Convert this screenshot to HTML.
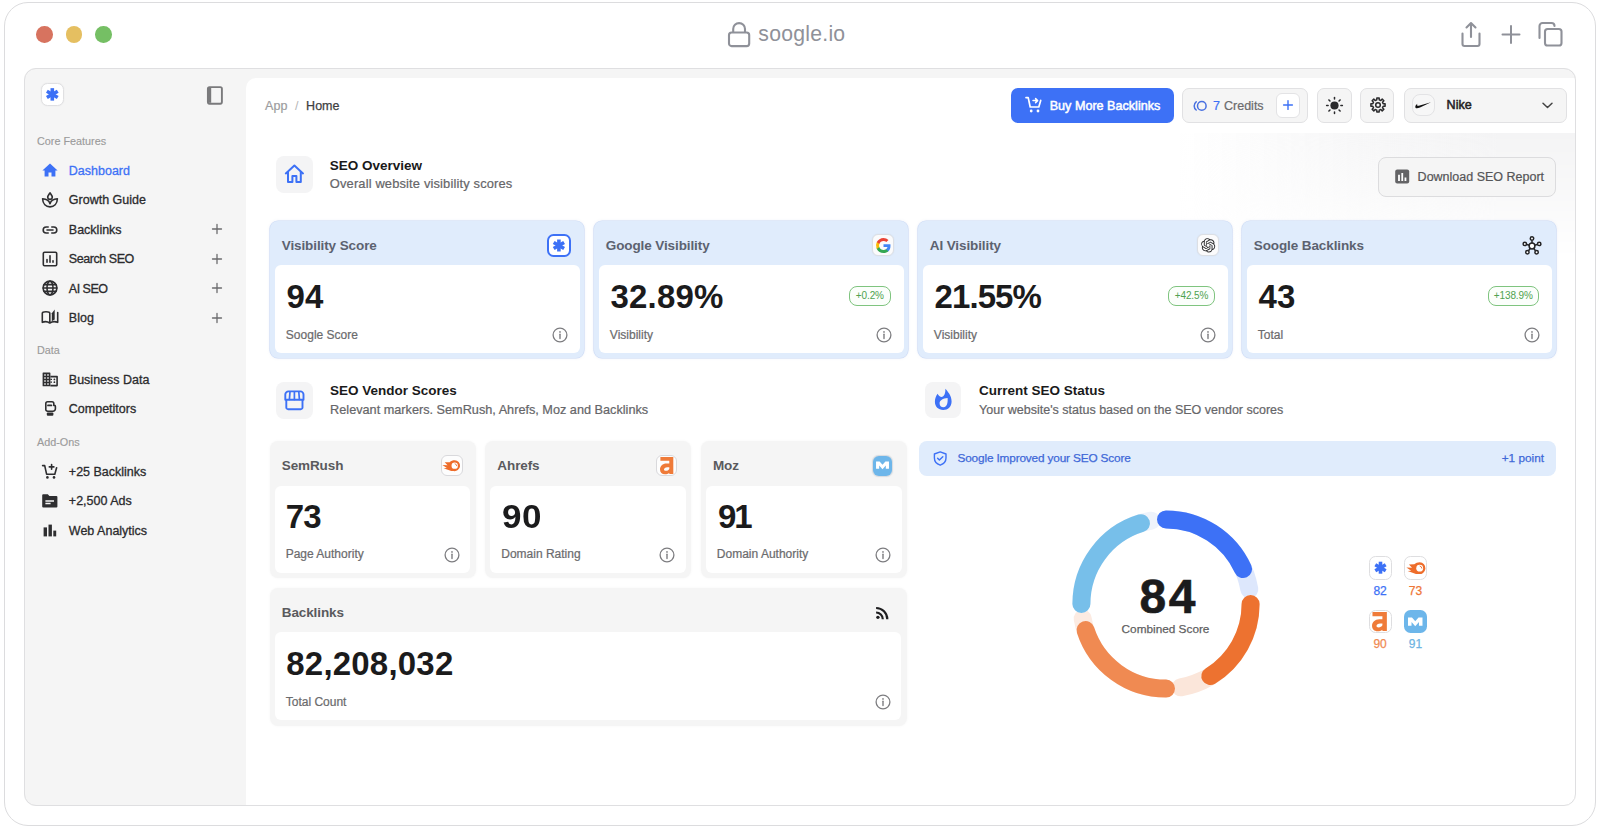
<!DOCTYPE html>
<html><head><meta charset="utf-8"><title>Soogle</title>
<style>
html,body{margin:0;padding:0;background:#fff;}
body{width:1600px;height:832px;position:relative;overflow:hidden;font-family:'Liberation Sans', Arial, sans-serif;}
</style></head><body>
<div style="position:absolute;left:4px;top:2px;width:1592px;height:824px;box-sizing:border-box;border:1.3px solid #dcdcde;border-radius:24px;background:#fff"></div>
<div style="position:absolute;left:36.0px;top:25.999999999999996px;width:16.6px;height:16.6px;border-radius:50%;background:#d7735f"></div>
<div style="position:absolute;left:65.60000000000001px;top:25.999999999999996px;width:16.6px;height:16.6px;border-radius:50%;background:#e5bf61"></div>
<div style="position:absolute;left:95.3px;top:25.999999999999996px;width:16.6px;height:16.6px;border-radius:50%;background:#75bf64"></div>
<svg style="position:absolute;left:727px;top:21px;overflow:visible;" width="24" height="27" viewBox="0 0 24 27" fill="none"><path d="M6.2 11.5V8a5.9 5.9 0 0 1 11.8 0v3.5" stroke="#8f9199" stroke-width="2.1"/><rect x="2" y="11.5" width="20.2" height="13.6" rx="2.6" stroke="#8f9199" stroke-width="2.1"/></svg>
<div style="position:absolute;left:758.32px;top:22.85px;font-size:21.2px;line-height:1;font-weight:400;color:#8f9199;white-space:nowrap;letter-spacing:0.25px">soogle.io</div>
<svg style="position:absolute;left:1458px;top:20px;overflow:visible;" width="26" height="28" viewBox="0 0 26 28" fill="none"><path d="M13 3.5V17M8.5 7.5L13 3l4.5 4.5" stroke="#8f9199" stroke-width="2.1" stroke-linecap="round" stroke-linejoin="round"/><path d="M4.5 13.5v10.5a2 2 0 0 0 2 2h13a2 2 0 0 0 2-2V13.5" stroke="#8f9199" stroke-width="2.1" stroke-linecap="round"/></svg>
<svg style="position:absolute;left:1500px;top:24px;overflow:visible;" width="22" height="22" viewBox="0 0 22 22" fill="none"><path d="M11 2v17M2.5 10.5h17" stroke="#8f9199" stroke-width="2" stroke-linecap="round"/></svg>
<svg style="position:absolute;left:1536px;top:20px;overflow:visible;" width="28" height="28" viewBox="0 0 28 28" fill="none"><rect x="9" y="9" width="16.5" height="16.5" rx="2.6" stroke="#8f9199" stroke-width="2.1"/><path d="M3.5 18V6a3 3 0 0 1 3-3h9a3 3 0 0 1 3 3" stroke="#8f9199" stroke-width="2.1" stroke-linecap="round"/></svg>
<div style="position:absolute;left:24px;top:68.3px;width:1552.3px;height:738px;border-radius:12px;background:#f5f5f5"></div>
<div style="position:absolute;left:246px;top:78px;width:1330px;height:728px;background:#fff;border-radius:10px 0 12px 0"></div>
<div style="position:absolute;left:1180px;top:132.5px;width:396px;height:125px;background:linear-gradient(to right, rgba(244,244,245,0), rgba(244,244,245,0.75) 45%, rgba(244,244,245,1) 80%);-webkit-mask-image:linear-gradient(to bottom, #000 0%, rgba(0,0,0,0.6) 45%, transparent 100%)"></div>
<div style="position:absolute;left:24px;top:68.3px;width:1552.3px;height:738px;box-sizing:border-box;border:1.3px solid #dfdfe1;border-radius:12px"></div>
<div style="position:absolute;left:41.4px;top:83.2px;width:22.2px;height:22.7px;box-sizing:border-box;background:#fff;border:1px solid #e0e0e2;border-radius:6.5px;box-shadow:0 0 2px rgba(0,0,0,0.06)"></div>
<svg style="position:absolute;left:41px;top:83px;overflow:visible;" width="22.5" height="22.5" viewBox="0 0 22.5 22.5" fill="none"><g stroke="#3d71f6" stroke-width="3.6" stroke-linecap="butt"><path d="M11.3 5.15V17.65"/><path d="M5.887341226347258 8.275L16.71265877365274 14.525"/><path d="M5.887341226347258 14.525L16.71265877365274 8.275"/></g></svg>
<svg style="position:absolute;left:205px;top:84.8px;overflow:visible;" width="19" height="21" viewBox="0 0 19 21" fill="none"><rect x="2.9" y="2.1" width="14" height="16.6" rx="1.6" stroke="#7a7a7c" stroke-width="1.9"/><path d="M4.6 3v14.8" stroke="#7a7a7c" stroke-width="3.2"/></svg>
<div style="position:absolute;left:37.04px;top:135.56px;font-size:10.8px;line-height:1;font-weight:400;color:#9b9b9b;white-space:nowrap;-webkit-text-stroke:0.15px currentColor">Core Features</div>
<div style="position:absolute;left:37.04px;top:345.06px;font-size:10.8px;line-height:1;font-weight:400;color:#9b9b9b;white-space:nowrap;-webkit-text-stroke:0.15px currentColor">Data</div>
<div style="position:absolute;left:37.04px;top:436.86px;font-size:10.8px;line-height:1;font-weight:400;color:#9b9b9b;white-space:nowrap;-webkit-text-stroke:0.15px currentColor">Add-Ons</div>
<div style="position:absolute;left:68.83px;top:165.12px;font-size:12.5px;line-height:1;font-weight:500;color:#3d71f6;white-space:nowrap;-webkit-text-stroke:0.3px currentColor;letter-spacing:0px">Dashboard</div>
<div style="position:absolute;left:68.83px;top:194.22px;font-size:12.5px;line-height:1;font-weight:500;color:#2b2b2d;white-space:nowrap;-webkit-text-stroke:0.3px currentColor;letter-spacing:0px">Growth Guide</div>
<div style="position:absolute;left:68.83px;top:223.82px;font-size:12.5px;line-height:1;font-weight:500;color:#2b2b2d;white-space:nowrap;-webkit-text-stroke:0.3px currentColor;letter-spacing:0px">Backlinks</div>
<svg style="position:absolute;left:211px;top:223.1px;overflow:visible;" width="12" height="12" viewBox="0 0 12 12" fill="none"><path d="M6 1.5v9M1.5 6h9" stroke="#6b6b6d" stroke-width="1.3" stroke-linecap="round"/></svg>
<div style="position:absolute;left:68.83px;top:253.32px;font-size:12.5px;line-height:1;font-weight:500;color:#2b2b2d;white-space:nowrap;-webkit-text-stroke:0.3px currentColor;letter-spacing:-0.45px">Search SEO</div>
<svg style="position:absolute;left:211px;top:252.60000000000002px;overflow:visible;" width="12" height="12" viewBox="0 0 12 12" fill="none"><path d="M6 1.5v9M1.5 6h9" stroke="#6b6b6d" stroke-width="1.3" stroke-linecap="round"/></svg>
<div style="position:absolute;left:68.83px;top:282.72px;font-size:12.5px;line-height:1;font-weight:500;color:#2b2b2d;white-space:nowrap;-webkit-text-stroke:0.3px currentColor;letter-spacing:-0.5px">AI SEO</div>
<svg style="position:absolute;left:211px;top:282.0px;overflow:visible;" width="12" height="12" viewBox="0 0 12 12" fill="none"><path d="M6 1.5v9M1.5 6h9" stroke="#6b6b6d" stroke-width="1.3" stroke-linecap="round"/></svg>
<div style="position:absolute;left:68.83px;top:312.22px;font-size:12.5px;line-height:1;font-weight:500;color:#2b2b2d;white-space:nowrap;-webkit-text-stroke:0.3px currentColor;letter-spacing:0px">Blog</div>
<svg style="position:absolute;left:211px;top:311.5px;overflow:visible;" width="12" height="12" viewBox="0 0 12 12" fill="none"><path d="M6 1.5v9M1.5 6h9" stroke="#6b6b6d" stroke-width="1.3" stroke-linecap="round"/></svg>
<div style="position:absolute;left:68.83px;top:373.62px;font-size:12.5px;line-height:1;font-weight:500;color:#2b2b2d;white-space:nowrap;-webkit-text-stroke:0.3px currentColor;letter-spacing:0px">Business Data</div>
<div style="position:absolute;left:68.83px;top:402.82px;font-size:12.5px;line-height:1;font-weight:500;color:#2b2b2d;white-space:nowrap;-webkit-text-stroke:0.3px currentColor;letter-spacing:0px">Competitors</div>
<div style="position:absolute;left:68.83px;top:465.82px;font-size:12.5px;line-height:1;font-weight:500;color:#2b2b2d;white-space:nowrap;-webkit-text-stroke:0.3px currentColor;letter-spacing:0px">+25 Backlinks</div>
<div style="position:absolute;left:68.83px;top:495.32px;font-size:12.5px;line-height:1;font-weight:500;color:#2b2b2d;white-space:nowrap;-webkit-text-stroke:0.3px currentColor;letter-spacing:0px">+2,500 Ads</div>
<div style="position:absolute;left:68.83px;top:524.82px;font-size:12.5px;line-height:1;font-weight:500;color:#2b2b2d;white-space:nowrap;-webkit-text-stroke:0.3px currentColor;letter-spacing:0px">Web Analytics</div>
<svg style="position:absolute;left:41.5px;top:162.8px;overflow:visible;" width="16" height="16" viewBox="0 0 16 16" fill="none"><path d="M8 0.6L0.4 7.4h2.2v6.2h3.9V9.6h3v4h3.9V7.4h2.2z" fill="#3d71f6"/></svg>
<svg style="position:absolute;left:41.5px;top:191.9px;overflow:visible;" width="16" height="16" viewBox="0 0 16 16" fill="none"><path d="M8 0.8C8.9 2.3 10.3 4 10.3 5.1A2.3 2.3 0 0 1 5.7 5.1C5.7 4 7.1 2.3 8 0.8Z" stroke="#2e2e30" stroke-width="1.6" stroke-linecap="round" stroke-linejoin="round"/><path d="M8 14.9C3.9 14.9 0.8 12 0.6 6.8 4.6 7 7.3 9.3 8 11.8 8.7 9.3 11.4 7 15.4 6.8 15.2 12 12.1 14.9 8 14.9Z" stroke="#2e2e30" stroke-width="1.6" stroke-linecap="round" stroke-linejoin="round"/></svg>
<svg style="position:absolute;left:41.5px;top:221.5px;overflow:visible;" width="16" height="16" viewBox="0 0 16 16" fill="none"><path d="M6.2 5H4.2a3 3 0 0 0 0 6h2M9.8 5h2a3 3 0 0 1 0 6h-2M5 8h6" stroke="#2e2e30" stroke-width="1.6" stroke-linecap="round" stroke-linejoin="round"/></svg>
<svg style="position:absolute;left:41.5px;top:251.0px;overflow:visible;" width="16" height="16" viewBox="0 0 16 16" fill="none"><rect x="1.3" y="1.3" width="13.4" height="13.4" rx="1.2" stroke="#2e2e30" stroke-width="1.6" stroke-linecap="round" stroke-linejoin="round"/><path d="M5 11.2V8.5M8 11.2V4.8M11 11.2V9.8" stroke="#2e2e30" stroke-width="1.6" stroke-linecap="round" stroke-linejoin="round"/></svg>
<svg style="position:absolute;left:41.5px;top:280.4px;overflow:visible;" width="16" height="16" viewBox="0 0 16 16" fill="none"><circle cx="8" cy="8" r="6.9" stroke="#2e2e30" stroke-width="1.6" stroke-linecap="round" stroke-linejoin="round"/><path d="M1.2 8h13.6M2 4.6h12M2 11.4h12" stroke="#2e2e30" stroke-width="1.6" stroke-linecap="round" stroke-linejoin="round"/><ellipse cx="8" cy="8" rx="3" ry="6.9" stroke="#2e2e30" stroke-width="1.6" stroke-linecap="round" stroke-linejoin="round"/></svg>
<svg style="position:absolute;left:41.5px;top:309.9px;overflow:visible;" width="16" height="16" viewBox="0 0 16 16" fill="none"><path d="M0.3 12.3V3.3C0.3 2.2 1.9 1.7 4 1.7S7.8 2.2 7.8 3.3V13M0.3 12.3C2.6 11.4 5.6 11.5 7.8 13C10 11.5 13.4 11.4 15.7 12.3V2.6" stroke="#2e2e30" stroke-width="1.6" stroke-linecap="round" stroke-linejoin="round"/><path d="M9.8 3.3L12.7 -0.6V9.6L9.8 11.3Z" fill="#2e2e30"/></svg>
<svg style="position:absolute;left:41.5px;top:372.2px;overflow:visible;" width="16" height="16" viewBox="0 0 16 16" fill="none"><rect x="0.6" y="0.4" width="7.8" height="13.9" rx="0.6" fill="#2e2e30"/><path d="M2.2 2.2h1.6v1.6H2.2zM5.2 2.2h1.6v1.6H5.2zM2.2 5.2h1.6v1.6H2.2zM5.2 5.2h1.6v1.6H5.2zM2.2 8.2h1.6v1.6H2.2zM5.2 8.2h1.6v1.6H5.2zM2.2 11.2h1.6v1.6H2.2zM5.2 11.2h1.6v1.6H5.2z" fill="#e8e8e8"/><path d="M8.4 4.6h6.7v9H8.4" stroke="#2e2e30" stroke-width="1.6" stroke-linejoin="round"/><path d="M8.4 7.4h1.6M8.4 10.2h1.6" stroke="#2e2e30" stroke-width="1.3"/><circle cx="12.4" cy="7.4" r="0.9" fill="#2e2e30"/><circle cx="12.4" cy="10.2" r="0.9" fill="#2e2e30"/></svg>
<svg style="position:absolute;left:41.5px;top:401.4px;overflow:visible;" width="16" height="16" viewBox="0 0 16 16" fill="none"><path d="M3.8 2.6a1.8 1.8 0 0 1 1.8-1.8h4.4a1.8 1.8 0 0 1 1.8 1.8v1.8h0.6a1 1 0 0 1 1 1v2.4a2.4 2.4 0 0 1-2.4 2.4H5.6A1.8 1.8 0 0 1 3.8 8.4z" stroke="#2e2e30" stroke-width="1.6" stroke-linecap="round" stroke-linejoin="round"/><path d="M6 4.4h3.4" stroke="#2e2e30" stroke-width="1.8" stroke-linecap="round"/><rect x="4.8" y="11.4" width="6.6" height="3.4" rx="1" fill="#2e2e30"/></svg>
<svg style="position:absolute;left:41.5px;top:463.5px;overflow:visible;" width="16" height="16" viewBox="0 0 16 16" fill="none"><path d="M0.6 1.6h2.1l1.9 8.6h8.2l1.8-6.4" stroke="#2e2e30" stroke-width="1.6" stroke-linecap="round" stroke-linejoin="round"/><path d="M9.6 0.6v4.6M7.3 2.9h4.6" stroke="#2e2e30" stroke-width="1.6" stroke-linecap="round" stroke-linejoin="round"/><circle cx="5.4" cy="13.4" r="1.3" fill="#2e2e30"/><circle cx="12" cy="13.4" r="1.3" fill="#2e2e30"/></svg>
<svg style="position:absolute;left:41.5px;top:493.0px;overflow:visible;" width="16" height="16" viewBox="0 0 16 16" fill="none"><path d="M0.2 2.2a1 1 0 0 1 1-1h4.6l1.6 1.8h7a1 1 0 0 1 1 1v9.4a1 1 0 0 1-1 1H1.2a1 1 0 0 1-1-1z" fill="#2e2e30"/><path d="M3.4 7.9h8.6M3.4 10.6h5.2" stroke="#f5f5f5" stroke-width="1.5"/></svg>
<svg style="position:absolute;left:41.5px;top:522.5px;overflow:visible;" width="16" height="16" viewBox="0 0 16 16" fill="none"><rect x="1.6" y="4.4" width="3.4" height="9" fill="#2e2e30"/><rect x="6.5" y="1.6" width="3.4" height="11.8" fill="#2e2e30"/><rect x="11.3" y="7.6" width="2.9" height="5.8" fill="#2e2e30"/></svg>
<div style="position:absolute;left:265.12px;top:100.22px;font-size:12.5px;line-height:1;font-weight:400;color:#9c9c9e;white-space:nowrap;-webkit-text-stroke:0.2px currentColor">App</div>
<div style="position:absolute;left:294.93px;top:100.22px;font-size:12.5px;line-height:1;font-weight:400;color:#b5b5b7;white-space:nowrap;">/</div>
<div style="position:absolute;left:306.12px;top:100.22px;font-size:12.5px;line-height:1;font-weight:400;color:#3f3f42;white-space:nowrap;-webkit-text-stroke:0.25px currentColor">Home</div>
<div style="position:absolute;left:1011px;top:88px;width:163px;height:34.5px;background:#3d71f6;border-radius:7px"></div>
<svg style="position:absolute;left:1024.5px;top:96px;overflow:visible;" width="18" height="18" viewBox="0 0 18 18" fill="none"><path d="M1 1.6h2.2l2 9.4h8.6l1.9-6.6" stroke="#fff" stroke-width="1.7" stroke-linecap="round" stroke-linejoin="round"/><path d="M8 4.6h4.4M10.6 2.6l2 2-2 2" stroke="#fff" stroke-width="1.5" stroke-linecap="round" stroke-linejoin="round"/><circle cx="6.2" cy="15" r="1.4" fill="#fff"/><circle cx="13" cy="15" r="1.4" fill="#fff"/></svg>
<div style="position:absolute;left:1049.72px;top:99.63px;font-size:12.6px;line-height:1;font-weight:400;color:#fff;white-space:nowrap;-webkit-text-stroke:0.5px #fff">Buy More Backlinks</div>
<div style="position:absolute;left:1182.4px;top:88px;width:126px;height:34.5px;box-sizing:border-box;background:#f5f5f5;border:1px solid #e1e1e3;border-radius:7px"></div>
<svg style="position:absolute;left:1192px;top:99.8px;overflow:visible;" width="16" height="13" viewBox="0 0 16 13" fill="none"><circle cx="9.8" cy="5.9" r="4.3" stroke="#4870e0" stroke-width="1.5"/><path d="M4.2 1.8A5.2 5.2 0 0 0 4.2 10" stroke="#4870e0" stroke-width="1.5" stroke-linecap="round"/></svg>
<div style="position:absolute;left:1213.03px;top:100.32px;font-size:12.5px;line-height:1;font-weight:500;color:#3d71f6;white-space:nowrap;-webkit-text-stroke:0.22px currentColor">7</div>
<div style="position:absolute;left:1224.03px;top:100.32px;font-size:12.5px;line-height:1;font-weight:500;color:#6b6b6d;white-space:nowrap;-webkit-text-stroke:0.22px currentColor">Credits</div>
<div style="position:absolute;left:1275.6px;top:93.1px;width:24px;height:24.5px;box-sizing:border-box;background:#fff;border:1px solid #e3e3e5;border-radius:6px"></div>
<svg style="position:absolute;left:1282.5px;top:100.4px;overflow:visible;" width="10" height="10" viewBox="0 0 10 10" fill="none"><path d="M5 0.6v8.8M0.6 5h8.8" stroke="#3d71f6" stroke-width="1.4" stroke-linecap="round"/></svg>
<div style="position:absolute;left:1317.4px;top:88px;width:34.2px;height:34.5px;box-sizing:border-box;background:#f5f5f5;border:1px solid #e1e1e3;border-radius:7px"></div>
<svg style="position:absolute;left:1326px;top:96.5px;overflow:visible;" width="17" height="17" viewBox="0 0 17 17" fill="none"><circle cx="8.5" cy="8.5" r="4.1" fill="#2b2b2d"/><g stroke="#2b2b2d" stroke-width="1.5" stroke-linecap="round"><path d="M8.50 2.10L8.50 0.60"/><path d="M13.03 3.97L14.09 2.91"/><path d="M14.90 8.50L16.40 8.50"/><path d="M13.03 13.03L14.09 14.09"/><path d="M8.50 14.90L8.50 16.40"/><path d="M3.97 13.03L2.91 14.09"/><path d="M2.10 8.50L0.60 8.50"/><path d="M3.97 3.97L2.91 2.91"/></g></svg>
<div style="position:absolute;left:1360.3px;top:88px;width:34.2px;height:34.5px;box-sizing:border-box;background:#f5f5f5;border:1px solid #e1e1e3;border-radius:7px"></div>
<svg style="position:absolute;left:1369.5px;top:97px;overflow:visible;" width="16" height="16" viewBox="0 0 16 16" fill="none"><path d="M6.80 2.84L6.82 0.90L9.18 0.90L9.20 2.84L10.80 3.50L12.19 2.14L13.86 3.81L12.50 5.20L13.16 6.80L15.10 6.82L15.10 9.18L13.16 9.20L12.50 10.80L13.86 12.19L12.19 13.86L10.80 12.50L9.20 13.16L9.18 15.10L6.82 15.10L6.80 13.16L5.20 12.50L3.81 13.86L2.14 12.19L3.50 10.80L2.84 9.20L0.90 9.18L0.90 6.82L2.84 6.80L3.50 5.20L2.14 3.81L3.81 2.14L5.20 3.50Z" stroke="#2b2b2d" stroke-width="1.5" stroke-linejoin="round"/><circle cx="8" cy="8" r="2.3" stroke="#2b2b2d" stroke-width="1.5"/></svg>
<div style="position:absolute;left:1403.6px;top:88px;width:163.6px;height:34.5px;box-sizing:border-box;background:#f5f5f5;border:1px solid #e1e1e3;border-radius:7px"></div>
<div style="position:absolute;left:1412.4px;top:93.6px;width:22.5px;height:22.8px;box-sizing:border-box;background:#f7f7f7;border:1px solid #e3e3e5;border-radius:8px"></div>
<svg style="position:absolute;left:1415.2px;top:102.2px;overflow:visible;" width="16.2" height="6.2" viewBox="0 0 16.2 6.2" fill="none"><path d="M16 0.2L5 5.6C3.7 6.1 2.7 6.3 1.9 6.3 0.9 6.3 0.3 5.7 0.3 4.9 0.3 3.9 1 2.9 2.4 1.8 1.9 2.8 2 3.5 2.5 3.7 3 3.9 3.8 3.8 4.7 3.4Z" fill="#111"/></svg>
<div style="position:absolute;left:1446.62px;top:99.33px;font-size:12.6px;line-height:1;font-weight:400;color:#222;white-space:nowrap;-webkit-text-stroke:0.5px #222">Nike</div>
<svg style="position:absolute;left:1542px;top:101.5px;overflow:visible;" width="11" height="7" viewBox="0 0 11 7" fill="none"><path d="M1 1.2l4.5 4.3L10 1.2" stroke="#444" stroke-width="1.5" stroke-linecap="round" stroke-linejoin="round"/></svg>
<div style="position:absolute;left:1378px;top:157px;width:178px;height:40px;box-sizing:border-box;background:#f5f5f5;border:1px solid #dcdcde;border-radius:8px"></div>
<svg style="position:absolute;left:1395px;top:170px;overflow:visible;" width="14.5" height="14" viewBox="0 0 14.5 14" fill="none"><rect x="0.2" y="-0.4" width="14" height="14" rx="2" fill="#646466"/><path d="M4 10.9V4.8M7.25 10.9V2.9M10.45 10.9V7.4" stroke="#fff" stroke-width="1.8"/></svg>
<div style="position:absolute;left:1417.62px;top:171.02px;font-size:12.5px;line-height:1;font-weight:400;color:#555558;white-space:nowrap;-webkit-text-stroke:0.22px currentColor">Download SEO Report</div>
<div style="position:absolute;left:276.3px;top:156px;width:36.5px;height:36.5px;background:#f4f4f5;border-radius:8px"></div>
<svg style="position:absolute;left:283.6px;top:164px;overflow:visible;" width="21" height="20" viewBox="0 0 21 20" fill="none"><path d="M1.8 9.4L10.4 1.6 19 9.4" stroke="#3d71f6" stroke-width="2" stroke-linecap="round" stroke-linejoin="round"/><path d="M4 7.6v10.4h4.4v-6h4v6h4.4V7.6" stroke="#3d71f6" stroke-width="2" stroke-linejoin="round"/></svg>
<div style="position:absolute;left:329.75px;top:158.57px;font-size:13.5px;line-height:1;font-weight:700;color:#1a1a1a;white-space:nowrap;">SEO Overview</div>
<div style="position:absolute;left:329.80px;top:177.88px;font-size:12.9px;line-height:1;font-weight:400;color:#666669;white-space:nowrap;-webkit-text-stroke:0.22px currentColor;letter-spacing:0.15px">Overall website visibility scores</div>
<div style="position:absolute;left:276.3px;top:382px;width:36.5px;height:36.5px;background:#f4f4f5;border-radius:8px"></div>
<svg style="position:absolute;left:284px;top:389.5px;overflow:visible;" width="21" height="20" viewBox="0 0 21 20" fill="none"><g stroke="#3d71f6" stroke-width="1.9" stroke-linejoin="round" stroke-linecap="round"><path d="M1.3 9.8V4.6A3.2 3.2 0 0 1 4.5 1.4H16.3A3.2 3.2 0 0 1 19.5 4.6V9.8Z"/><path d="M6 1.8L5.4 9.4M10.4 1.8V9.4M14.8 1.8L15.4 9.4" stroke-width="1.7"/><path d="M2.3 10.2v7.2a1.8 1.8 0 0 0 1.8 1.8h12.6a1.8 1.8 0 0 0 1.8-1.8V10.2"/></g></svg>
<div style="position:absolute;left:330.06px;top:383.57px;font-size:13.5px;line-height:1;font-weight:700;color:#1a1a1a;white-space:nowrap;">SEO Vendor Scores</div>
<div style="position:absolute;left:330.11px;top:403.85px;font-size:12.7px;line-height:1;font-weight:400;color:#666669;white-space:nowrap;-webkit-text-stroke:0.22px currentColor">Relevant markers. SemRush, Ahrefs, Moz and Backlinks</div>
<div style="position:absolute;left:924.6px;top:381.8px;width:36.5px;height:36.5px;background:#f4f4f5;border-radius:8px"></div>
<svg style="position:absolute;left:934px;top:388px;overflow:visible;" width="18.5" height="22.5" viewBox="0 0 18.5 22.5" fill="none"><path fill-rule="evenodd" d="M11.4 0.7C13.6 3.6 17.6 7.2 17.6 13.5 17.6 18.5 14 22 9.2 22 4.3 22 0.9 18.6 0.9 13.8 0.9 10.3 2.2 7.6 3.6 5.7 4.5 7.6 5.8 8.7 7.9 8.9 10.4 7.9 11.6 5.2 11.4 0.7ZM13.6 10C13.9 13.5 13.5 19.2 9.4 19.2 7.1 19.2 5.6 17.6 5.6 15.4 5.6 12.2 8.8 10.5 13.6 10Z" fill="#3d71f6"/></svg>
<div style="position:absolute;left:979.05px;top:383.57px;font-size:13.5px;line-height:1;font-weight:700;color:#1a1a1a;white-space:nowrap;">Current SEO Status</div>
<div style="position:absolute;left:979.12px;top:404.02px;font-size:12.5px;line-height:1;font-weight:400;color:#666669;white-space:nowrap;-webkit-text-stroke:0.22px currentColor">Your website's status based on the SEO vendor scores</div>
<div style="position:absolute;left:270.3px;top:221.2px;width:313.7px;height:136.5px;background:#e0ecfc;border-radius:8px;box-shadow:0 0 0 0.6px rgba(200,214,244,0.9), 0 0 3px rgba(180,195,225,0.35)"></div>
<div style="position:absolute;left:274.6px;top:264.8px;width:305.09999999999997px;height:88.6px;background:#fff;border-radius:6px"></div>
<div style="position:absolute;left:281.75px;top:238.87px;font-size:13.5px;line-height:1;font-weight:700;color:#5c6270;white-space:nowrap;letter-spacing:-0.1px">Visibility Score</div>
<div style="position:absolute;left:286.49px;top:280.07px;font-size:33px;line-height:1;font-weight:700;color:#1b1b1c;white-space:nowrap;letter-spacing:0.2px">94</div>
<div style="position:absolute;left:285.86px;top:328.64px;font-size:12px;line-height:1;font-weight:400;color:#6b6b6d;white-space:nowrap;-webkit-text-stroke:0.22px currentColor">Soogle Score</div>
<svg style="position:absolute;left:552.3px;top:326.7px;overflow:visible;" width="16" height="16" viewBox="0 0 16 16" fill="none"><circle cx="8" cy="8" r="6.9" stroke="#7d7d80" stroke-width="1.3"/><path d="M8 7.2v4.4" stroke="#7d7d80" stroke-width="1.4" stroke-linecap="round"/><circle cx="8" cy="4.9" r="0.85" fill="#7d7d80"/></svg>
<div style="position:absolute;left:594.3px;top:221.2px;width:313.7px;height:136.5px;background:#e0ecfc;border-radius:8px;box-shadow:0 0 0 0.6px rgba(200,214,244,0.9), 0 0 3px rgba(180,195,225,0.35)"></div>
<div style="position:absolute;left:598.5999999999999px;top:264.8px;width:305.09999999999997px;height:88.6px;background:#fff;border-radius:6px"></div>
<div style="position:absolute;left:605.75px;top:238.87px;font-size:13.5px;line-height:1;font-weight:700;color:#5c6270;white-space:nowrap;letter-spacing:-0.1px">Google Visibility</div>
<div style="position:absolute;left:610.49px;top:280.07px;font-size:33px;line-height:1;font-weight:700;color:#1b1b1c;white-space:nowrap;letter-spacing:0.2px">32.89%</div>
<div style="position:absolute;left:609.86px;top:328.64px;font-size:12px;line-height:1;font-weight:400;color:#6b6b6d;white-space:nowrap;-webkit-text-stroke:0.22px currentColor">Visibility</div>
<svg style="position:absolute;left:876.3px;top:326.7px;overflow:visible;" width="16" height="16" viewBox="0 0 16 16" fill="none"><circle cx="8" cy="8" r="6.9" stroke="#7d7d80" stroke-width="1.3"/><path d="M8 7.2v4.4" stroke="#7d7d80" stroke-width="1.4" stroke-linecap="round"/><circle cx="8" cy="4.9" r="0.85" fill="#7d7d80"/></svg>
<div style="position:absolute;left:848.7px;top:285.6px;width:42.3px;height:20.2px;box-sizing:border-box;border:1.2px solid #7fc47f;border-radius:8px;background:#fbfefb"></div>
<div style="position:absolute;left:569.85px;width:600px;text-align:center;top:290.64px;font-size:10px;line-height:1;font-weight:400;color:#4fa24f;white-space:nowrap;letter-spacing:-0.1px">+0.2%</div>
<div style="position:absolute;left:918.3px;top:221.2px;width:313.7px;height:136.5px;background:#e0ecfc;border-radius:8px;box-shadow:0 0 0 0.6px rgba(200,214,244,0.9), 0 0 3px rgba(180,195,225,0.35)"></div>
<div style="position:absolute;left:922.5999999999999px;top:264.8px;width:305.09999999999997px;height:88.6px;background:#fff;border-radius:6px"></div>
<div style="position:absolute;left:929.75px;top:238.87px;font-size:13.5px;line-height:1;font-weight:700;color:#5c6270;white-space:nowrap;letter-spacing:-0.1px">AI Visibility</div>
<div style="position:absolute;left:934.49px;top:280.07px;font-size:33px;line-height:1;font-weight:700;color:#1b1b1c;white-space:nowrap;letter-spacing:-0.9px">21.55%</div>
<div style="position:absolute;left:933.86px;top:328.64px;font-size:12px;line-height:1;font-weight:400;color:#6b6b6d;white-space:nowrap;-webkit-text-stroke:0.22px currentColor">Visibility</div>
<svg style="position:absolute;left:1200.3px;top:326.7px;overflow:visible;" width="16" height="16" viewBox="0 0 16 16" fill="none"><circle cx="8" cy="8" r="6.9" stroke="#7d7d80" stroke-width="1.3"/><path d="M8 7.2v4.4" stroke="#7d7d80" stroke-width="1.4" stroke-linecap="round"/><circle cx="8" cy="4.9" r="0.85" fill="#7d7d80"/></svg>
<div style="position:absolute;left:1168.0px;top:285.6px;width:47px;height:20.2px;box-sizing:border-box;border:1.2px solid #7fc47f;border-radius:8px;background:#fbfefb"></div>
<div style="position:absolute;left:891.50px;width:600px;text-align:center;top:290.64px;font-size:10px;line-height:1;font-weight:400;color:#4fa24f;white-space:nowrap;letter-spacing:-0.1px">+42.5%</div>
<div style="position:absolute;left:1242.3px;top:221.2px;width:313.7px;height:136.5px;background:#e0ecfc;border-radius:8px;box-shadow:0 0 0 0.6px rgba(200,214,244,0.9), 0 0 3px rgba(180,195,225,0.35)"></div>
<div style="position:absolute;left:1246.6px;top:264.8px;width:305.09999999999997px;height:88.6px;background:#fff;border-radius:6px"></div>
<div style="position:absolute;left:1253.76px;top:238.87px;font-size:13.5px;line-height:1;font-weight:700;color:#5c6270;white-space:nowrap;letter-spacing:-0.1px">Soogle Backlinks</div>
<div style="position:absolute;left:1258.49px;top:280.07px;font-size:33px;line-height:1;font-weight:700;color:#1b1b1c;white-space:nowrap;letter-spacing:0.2px">43</div>
<div style="position:absolute;left:1257.86px;top:328.64px;font-size:12px;line-height:1;font-weight:400;color:#6b6b6d;white-space:nowrap;-webkit-text-stroke:0.22px currentColor">Total</div>
<svg style="position:absolute;left:1524.3px;top:326.7px;overflow:visible;" width="16" height="16" viewBox="0 0 16 16" fill="none"><circle cx="8" cy="8" r="6.9" stroke="#7d7d80" stroke-width="1.3"/><path d="M8 7.2v4.4" stroke="#7d7d80" stroke-width="1.4" stroke-linecap="round"/><circle cx="8" cy="4.9" r="0.85" fill="#7d7d80"/></svg>
<div style="position:absolute;left:1487.5px;top:285.6px;width:51.5px;height:20.2px;box-sizing:border-box;border:1.2px solid #7fc47f;border-radius:8px;background:#fbfefb"></div>
<div style="position:absolute;left:1213.25px;width:600px;text-align:center;top:290.64px;font-size:10px;line-height:1;font-weight:400;color:#4fa24f;white-space:nowrap;letter-spacing:-0.1px">+138.9%</div>
<div style="position:absolute;left:547.4px;top:233.9px;width:23.5px;height:22.8px;box-sizing:border-box;border:2px solid #3d71f6;border-radius:6.5px;background:#fff"></div>
<svg style="position:absolute;left:547.4px;top:233.9px;overflow:visible;" width="23.5" height="22.8" viewBox="0 0 23.5 22.8" fill="none"><g stroke="#3d71f6" stroke-width="3.6" stroke-linecap="butt"><path d="M11.9 5.5V17.5"/><path d="M6.703847577293368 8.5L17.09615242270663 14.5"/><path d="M6.703847577293368 14.5L17.09615242270663 8.5"/></g></svg>
<div style="position:absolute;left:872.3px;top:234.1px;width:22px;height:22.1px;box-sizing:border-box;border:1px solid #dcdfe4;border-radius:6px;background:#fbfbfc;box-shadow:0 0 2px rgba(0,0,0,0.06)"></div>
<svg style="position:absolute;left:875.6px;top:237.7px;overflow:visible;" width="15" height="15" viewBox="0 0 15 15" fill="none"><path d="M14.5 7.7c0-.5 0-1-.1-1.5H7.5v2.9h4a3.4 3.4 0 0 1-1.5 2.2v1.9h2.4c1.4-1.3 2.1-3.2 2.1-5.5z" fill="#4285f4"/><path d="M7.5 15c2 0 3.7-.7 4.9-1.8L10 11.3c-.7.4-1.5.7-2.5.7-1.9 0-3.6-1.3-4.2-3.1H.8v2c1.3 2.4 3.8 4.1 6.7 4.1z" fill="#34a853"/><path d="M3.3 8.9a4.5 4.5 0 0 1 0-2.8v-2H.8a7.5 7.5 0 0 0 0 6.8z" fill="#fbbc05"/><path d="M7.5 3c1.1 0 2.1.4 2.9 1.1l2.1-2.1A7.3 7.3 0 0 0 7.5 0C4.6 0 2.1 1.7.8 4.1l2.5 2C3.9 4.3 5.6 3 7.5 3z" fill="#ea4335"/></svg>
<div style="position:absolute;left:1197.1px;top:234.1px;width:21.8px;height:22.1px;box-sizing:border-box;border:1px solid #dcdfe4;border-radius:6px;background:#fbfbfc;box-shadow:0 0 2px rgba(0,0,0,0.06)"></div>
<svg style="position:absolute;left:1200.6px;top:237.9px;overflow:visible;" width="14.3" height="14.6" viewBox="0 0 24 24" fill="none"><path d="M22.2819 9.8211a5.9847 5.9847 0 0 0-.5157-4.9108 6.0462 6.0462 0 0 0-6.5098-2.9A6.0651 6.0651 0 0 0 4.9807 4.1818a5.9847 5.9847 0 0 0-3.9977 2.9 6.0462 6.0462 0 0 0 .7427 7.0966 5.98 5.98 0 0 0 .511 4.9107 6.051 6.051 0 0 0 6.5146 2.9001A5.9847 5.9847 0 0 0 13.2599 24a6.0557 6.0557 0 0 0 5.7718-4.2058 5.9894 5.9894 0 0 0 3.9977-2.9001 6.0557 6.0557 0 0 0-.7475-7.0729zm-9.022 12.6081a4.4755 4.4755 0 0 1-2.8764-1.0408l.1419-.0804 4.7783-2.7582a.7948.7948 0 0 0 .3927-.6813v-6.7369l2.02 1.1686a.071.071 0 0 1 .038.052v5.5826a4.504 4.504 0 0 1-4.4945 4.4944zm-9.6607-4.1254a4.4708 4.4708 0 0 1-.5346-3.0137l.142.0852 4.783 2.7582a.7712.7712 0 0 0 .7806 0l5.8428-3.3685v2.3324a.0804.0804 0 0 1-.0332.0615L9.74 19.9502a4.4992 4.4992 0 0 1-6.1408-1.6464zM2.3408 7.8956a4.485 4.485 0 0 1 2.3655-1.9728V11.6a.7664.7664 0 0 0 .3879.6765l5.8144 3.3543-2.0201 1.1685a.0757.0757 0 0 1-.071 0l-4.8303-2.7865A4.504 4.504 0 0 1 2.3408 7.872zm16.5963 3.8558L13.1038 8.364 15.1192 7.2a.0757.0757 0 0 1 .071 0l4.8303 2.7913a4.4944 4.4944 0 0 1-.6765 8.1042v-5.6772a.79.79 0 0 0-.407-.667zm2.0107-3.0231l-.142-.0852-4.7735-2.7818a.7759.7759 0 0 0-.7854 0L9.409 9.2297V6.8974a.0662.0662 0 0 1 .0284-.0615l4.8303-2.7866a4.4992 4.4992 0 0 1 6.6802 4.66zM8.3065 12.863l-2.02-1.1638a.0804.0804 0 0 1-.038-.0567V6.0742a4.4992 4.4992 0 0 1 7.3757-3.4537l-.142.0805L8.704 5.459a.7948.7948 0 0 0-.3927.6813zm1.0976-2.3654l2.602-1.4998 2.6069 1.4998v2.9994l-2.5974 1.4997-2.6067-1.4997Z" fill="#262628" fill-rule="evenodd"/></svg>
<svg style="position:absolute;left:1522.7px;top:236.6px;overflow:visible;" width="18" height="18" viewBox="0 0 18 18" fill="none"><g transform="translate(9 9)" stroke="#232325" stroke-width="1.5"><path d="M0 0L0.00 -5.40"/><path d="M0 0L-5.18 -1.51"/><path d="M0 0L5.18 -1.51"/><path d="M0 0L-3.31 4.46"/><path d="M0 0L3.31 4.46"/><circle cx="0" cy="-7.5" r="1.7" fill="#fff"/><circle cx="-7.2" cy="-2.1" r="1.7" fill="#fff"/><circle cx="7.2" cy="-2.1" r="1.7" fill="#fff"/><circle cx="-4.6" cy="6.2" r="1.7" fill="#fff"/><circle cx="4.6" cy="6.2" r="1.7" fill="#fff"/><circle cx="0" cy="0" r="2.9" fill="#fff"/></g></svg>
<div style="position:absolute;left:269.6px;top:441.4px;width:206px;height:137px;background:#f5f5f5;border-radius:8px;box-shadow:0 0 3px rgba(0,0,0,0.04)"></div>
<div style="position:absolute;left:274.8px;top:486px;width:195.6px;height:86.6px;background:#fff;border-radius:6px"></div>
<div style="position:absolute;left:281.76px;top:458.97px;font-size:13.5px;line-height:1;font-weight:700;color:#5a5a5d;white-space:nowrap;letter-spacing:-0.1px">SemRush</div>
<div style="position:absolute;left:285.79px;top:499.67px;font-size:33px;line-height:1;font-weight:700;color:#1b1b1c;white-space:nowrap;letter-spacing:-0.8px;transform:scaleX(1);transform-origin:0 0">73</div>
<div style="position:absolute;left:285.66px;top:548.34px;font-size:12px;line-height:1;font-weight:400;color:#6b6b6d;white-space:nowrap;-webkit-text-stroke:0.22px currentColor">Page Authority</div>
<svg style="position:absolute;left:443.8px;top:546.5px;overflow:visible;" width="16" height="16" viewBox="0 0 16 16" fill="none"><circle cx="8" cy="8" r="6.9" stroke="#7d7d80" stroke-width="1.3"/><path d="M8 7.2v4.4" stroke="#7d7d80" stroke-width="1.4" stroke-linecap="round"/><circle cx="8" cy="4.9" r="0.85" fill="#7d7d80"/></svg>
<div style="position:absolute;left:485.20000000000005px;top:441.4px;width:206px;height:137px;background:#f5f5f5;border-radius:8px;box-shadow:0 0 3px rgba(0,0,0,0.04)"></div>
<div style="position:absolute;left:490.40000000000003px;top:486px;width:195.6px;height:86.6px;background:#fff;border-radius:6px"></div>
<div style="position:absolute;left:497.36px;top:458.97px;font-size:13.5px;line-height:1;font-weight:700;color:#5a5a5d;white-space:nowrap;letter-spacing:-0.1px">Ahrefs</div>
<div style="position:absolute;left:501.69px;top:499.67px;font-size:33px;line-height:1;font-weight:700;color:#1b1b1c;white-space:nowrap;letter-spacing:0.6px;transform:scaleX(1.06);transform-origin:0 0">90</div>
<div style="position:absolute;left:501.26px;top:548.34px;font-size:12px;line-height:1;font-weight:400;color:#6b6b6d;white-space:nowrap;-webkit-text-stroke:0.22px currentColor">Domain Rating</div>
<svg style="position:absolute;left:659.4000000000001px;top:546.5px;overflow:visible;" width="16" height="16" viewBox="0 0 16 16" fill="none"><circle cx="8" cy="8" r="6.9" stroke="#7d7d80" stroke-width="1.3"/><path d="M8 7.2v4.4" stroke="#7d7d80" stroke-width="1.4" stroke-linecap="round"/><circle cx="8" cy="4.9" r="0.85" fill="#7d7d80"/></svg>
<div style="position:absolute;left:700.8px;top:441.4px;width:206px;height:137px;background:#f5f5f5;border-radius:8px;box-shadow:0 0 3px rgba(0,0,0,0.04)"></div>
<div style="position:absolute;left:706.0px;top:486px;width:195.6px;height:86.6px;background:#fff;border-radius:6px"></div>
<div style="position:absolute;left:712.95px;top:458.97px;font-size:13.5px;line-height:1;font-weight:700;color:#5a5a5d;white-space:nowrap;letter-spacing:-0.1px">Moz</div>
<div style="position:absolute;left:718.09px;top:499.67px;font-size:33px;line-height:1;font-weight:700;color:#1b1b1c;white-space:nowrap;letter-spacing:-2.2px;transform:scaleX(1);transform-origin:0 0">91</div>
<div style="position:absolute;left:716.86px;top:548.34px;font-size:12px;line-height:1;font-weight:400;color:#6b6b6d;white-space:nowrap;-webkit-text-stroke:0.22px currentColor">Domain Authority</div>
<svg style="position:absolute;left:875.0px;top:546.5px;overflow:visible;" width="16" height="16" viewBox="0 0 16 16" fill="none"><circle cx="8" cy="8" r="6.9" stroke="#7d7d80" stroke-width="1.3"/><path d="M8 7.2v4.4" stroke="#7d7d80" stroke-width="1.4" stroke-linecap="round"/><circle cx="8" cy="4.9" r="0.85" fill="#7d7d80"/></svg>
<div style="position:absolute;left:440.6px;top:455px;width:22.2px;height:20.8px;box-sizing:border-box;border:1px solid #d9d9dc;border-radius:6px;background:#fdfdfd"></div>
<svg style="position:absolute;left:442.2px;top:459.6px;overflow:visible;" width="18.2" height="11.3" viewBox="0 0 18.9 11.7" fill="none"><path d="M13.2 0.2a5.7 5.7 0 1 1-1.2 11.3H9.6L1.6 8.6l3.4-.2L0.4 5.2l5.4.2L2.8 2.4 8 2.2C9.4 0.9 11.2 0.2 13.2 0.2z" fill="#ee6d2b"/><circle cx="13.2" cy="5.9" r="3.3" fill="#fff"/><path d="M13.6 3.9a2.1 2.1 0 0 1 1.7 2" stroke="#ee6d2b" stroke-width="0.9" stroke-linecap="round"/></svg>
<div style="position:absolute;left:655.5px;top:454.9px;width:21.6px;height:21.2px;box-sizing:border-box;border:1px solid #d9d9dc;border-radius:6px;background:#fdfdfd"></div>
<svg style="position:absolute;left:659.6px;top:456.9px;overflow:visible;" width="13.3" height="17.3" viewBox="0 0 13.3 17.3" fill="none"><path fill-rule="evenodd" d="M0.4 0H13.3V17.1H9.3V15.9C8.2 16.8 6.6 17.3 5 17.3 2 17.3 0 15.5 0 12.4 0 9.1 2.5 6.4 6.6 6.4H9.3V3.8H0.4ZM4 12.5C4 11.3 5.4 10.2 7.2 10.2H9.3V11.9C8.6 13.1 7.3 13.8 5.9 13.8 4.6 13.8 4 13.3 4 12.5Z" fill="#ef7b39"/></svg>
<div style="position:absolute;left:872.7px;top:455.7px;width:19.6px;height:20px;border-radius:6px;background:#6db6ea;box-shadow:0 0 1px 0.5px rgba(120,140,160,0.25)"></div>
<svg style="position:absolute;left:876px;top:461.2px;overflow:visible;" width="13" height="8.3" viewBox="0 0 13.1 8.4" fill="none"><path d="M0 7.8V0.4h3.6L6.55 3.9 9.5 0.4h3.6v7.4H9.9V4.6L6.55 8.4 3.2 4.6v3.2z" fill="#fff"/></svg>
<div style="position:absolute;left:269.6px;top:588px;width:637.1px;height:137.6px;background:#f5f5f5;border-radius:8px;box-shadow:0 0 3px rgba(0,0,0,0.04)"></div>
<div style="position:absolute;left:274.8px;top:632.4px;width:626.7px;height:87.6px;background:#fff;border-radius:6px"></div>
<div style="position:absolute;left:281.75px;top:605.97px;font-size:13.5px;line-height:1;font-weight:700;color:#5a5a5d;white-space:nowrap;letter-spacing:-0.1px">Backlinks</div>
<svg style="position:absolute;left:874px;top:605px;overflow:visible;" width="16" height="16" viewBox="0 0 16 16" fill="none"><circle cx="3.9" cy="12.35" r="1.7" fill="#1e1e20"/><path d="M2.1 7.5A6.7 6.7 0 0 1 8.8 14.2M2.1 3A11.2 11.2 0 0 1 13.3 14.2" stroke="#1e1e20" stroke-width="2.2"/></svg>
<div style="position:absolute;left:286.29px;top:646.67px;font-size:33px;line-height:1;font-weight:700;color:#1b1b1c;white-space:nowrap;letter-spacing:0.2px">82,208,032</div>
<div style="position:absolute;left:285.76px;top:695.74px;font-size:12px;line-height:1;font-weight:400;color:#6b6b6d;white-space:nowrap;-webkit-text-stroke:0.22px currentColor">Total Count</div>
<svg style="position:absolute;left:875px;top:693.8px;overflow:visible;" width="16" height="16" viewBox="0 0 16 16" fill="none"><circle cx="8" cy="8" r="6.9" stroke="#7d7d80" stroke-width="1.3"/><path d="M8 7.2v4.4" stroke="#7d7d80" stroke-width="1.4" stroke-linecap="round"/><circle cx="8" cy="4.9" r="0.85" fill="#7d7d80"/></svg>
<div style="position:absolute;left:919px;top:441.2px;width:637px;height:35px;background:#e0ecfc;border-radius:8px"></div>
<svg style="position:absolute;left:932.6px;top:451.4px;overflow:visible;" width="14.5" height="15" viewBox="0 0 14.5 15" fill="none"><path d="M7.2 0.9L1.4 3v4.1c0 3.6 2.5 6 5.8 7.1 3.3-1.1 5.8-3.5 5.8-7.1V3z" stroke="#3d71f6" stroke-width="1.4" stroke-linejoin="round"/><path d="M4.6 7.3l1.8 1.8 3.4-3.4" stroke="#3d71f6" stroke-width="1.4" stroke-linecap="round" stroke-linejoin="round"/></svg>
<div style="position:absolute;left:957.47px;top:452.91px;font-size:11.8px;line-height:1;font-weight:400;color:#3e68d8;white-space:nowrap;letter-spacing:-0.15px;-webkit-text-stroke:0.25px currentColor">Soogle Improved your SEO Score</div>
<div style="position:absolute;right:56.00px;top:452.91px;font-size:11.8px;line-height:1;font-weight:400;color:#3e68d8;white-space:nowrap;-webkit-text-stroke:0.25px currentColor">+1 point</div>
<svg style="position:absolute;left:0;top:0;overflow:visible" width="1600" height="832" fill="none"><path d="M1166.00 519.40A84.6 84.6 0 0 1 1249.31 589.31" stroke="#dde7fc" stroke-width="18" stroke-linecap="round"/><path d="M1250.60 604.00A84.6 84.6 0 0 1 1180.69 687.31" stroke="#fbe6da" stroke-width="18" stroke-linecap="round"/><path d="M1166.00 688.60A84.6 84.6 0 0 1 1082.69 618.69" stroke="#fcebe2" stroke-width="18" stroke-linecap="round"/><path d="M1081.40 604.00A84.6 84.6 0 0 1 1151.31 520.69" stroke="#eef3fb" stroke-width="18" stroke-linecap="round"/><path d="M1166.00 519.40A84.6 84.6 0 0 1 1243.04 569.05" stroke="#3d71f6" stroke-width="18" stroke-linecap="round"/><path d="M1250.60 604.00A84.6 84.6 0 0 1 1210.33 676.06" stroke="#ed7230" stroke-width="18" stroke-linecap="round"/><path d="M1166.00 688.60A84.6 84.6 0 0 1 1085.54 630.14" stroke="#f08a52" stroke-width="18" stroke-linecap="round"/><path d="M1081.40 604.00A84.6 84.6 0 0 1 1140.98 523.18" stroke="#77bfea" stroke-width="18" stroke-linecap="round"/></svg>
<div style="position:absolute;left:866.20px;width:600px;text-align:center;top:573.17px;font-size:48px;line-height:1;font-weight:700;color:#1b1b1c;white-space:nowrap;letter-spacing:2.5px;padding-left:2.5px;-webkit-text-stroke:0.6px currentColor">84</div>
<div style="position:absolute;left:865.50px;width:600px;text-align:center;top:623.81px;font-size:11.8px;line-height:1;font-weight:400;color:#5f5f62;white-space:nowrap;-webkit-text-stroke:0.25px currentColor">Combined Score</div>
<div style="position:absolute;left:1368.6px;top:556.3px;width:23px;height:23.4px;box-sizing:border-box;border:1px solid #dedee0;border-radius:6.5px;background:#fff;"></div>
<svg style="position:absolute;left:1368.6px;top:556.3px;overflow:visible;" width="23" height="23.4" viewBox="0 0 23 23.4" fill="none"><g stroke="#3d71f6" stroke-width="3.6" stroke-linecap="butt"><path d="M11.5 5.699999999999999V17.7"/><path d="M6.303847577293368 8.7L16.696152422706632 14.7"/><path d="M6.303847577293368 14.7L16.696152422706632 8.7"/></g></svg>
<div style="position:absolute;left:1404.2px;top:556.3px;width:23px;height:23.4px;box-sizing:border-box;border:1px solid #dedee0;border-radius:6.5px;background:#fff;"></div>
<svg style="position:absolute;left:1406px;top:561.6px;overflow:visible;" width="19.6" height="12.2" viewBox="0 0 18.9 11.7" fill="none"><path d="M13.2 0.2a5.7 5.7 0 1 1-1.2 11.3H9.6L1.6 8.6l3.4-.2L0.4 5.2l5.4.2L2.8 2.4 8 2.2C9.4 0.9 11.2 0.2 13.2 0.2z" fill="#ee6d2b"/><circle cx="13.2" cy="5.9" r="3.3" fill="#fff"/><path d="M13.6 3.9a2.1 2.1 0 0 1 1.7 2" stroke="#ee6d2b" stroke-width="0.9" stroke-linecap="round"/></svg>
<div style="position:absolute;left:1368.6px;top:609.6px;width:23px;height:23.4px;box-sizing:border-box;border:1px solid #dedee0;border-radius:6.5px;background:#fff;"></div>
<svg style="position:absolute;left:1372.2px;top:611.9px;overflow:visible;" width="14.9" height="19.3" viewBox="0 0 13.3 17.3" fill="none"><path fill-rule="evenodd" d="M0.4 0H13.3V17.1H9.3V15.9C8.2 16.8 6.6 17.3 5 17.3 2 17.3 0 15.5 0 12.4 0 9.1 2.5 6.4 6.6 6.4H9.3V3.8H0.4ZM4 12.5C4 11.3 5.4 10.2 7.2 10.2H9.3V11.9C8.6 13.1 7.3 13.8 5.9 13.8 4.6 13.8 4 13.3 4 12.5Z" fill="#ef7b39"/></svg>
<div style="position:absolute;left:1404.2px;top:609.6px;width:23px;height:23.4px;border-radius:6.5px;background:#6db6ea"></div>
<svg style="position:absolute;left:1408.4px;top:617.2px;overflow:visible;" width="14.5" height="9.3" viewBox="0 0 13.1 8.4" fill="none"><path d="M0 7.8V0.4h3.6L6.55 3.9 9.5 0.4h3.6v7.4H9.9V4.6L6.55 8.4 3.2 4.6v3.2z" fill="#fff"/></svg>
<div style="position:absolute;left:1080.10px;width:600px;text-align:center;top:584.64px;font-size:12px;line-height:1;font-weight:400;color:#3d71f6;white-space:nowrap;-webkit-text-stroke:0.25px currentColor">82</div>
<div style="position:absolute;left:1115.50px;width:600px;text-align:center;top:584.64px;font-size:12px;line-height:1;font-weight:400;color:#ee7636;white-space:nowrap;-webkit-text-stroke:0.25px currentColor">73</div>
<div style="position:absolute;left:1080.10px;width:600px;text-align:center;top:638.24px;font-size:12px;line-height:1;font-weight:400;color:#f08a52;white-space:nowrap;-webkit-text-stroke:0.25px currentColor">90</div>
<div style="position:absolute;left:1115.50px;width:600px;text-align:center;top:638.24px;font-size:12px;line-height:1;font-weight:400;color:#6fb4e2;white-space:nowrap;-webkit-text-stroke:0.25px currentColor">91</div>
</body></html>
